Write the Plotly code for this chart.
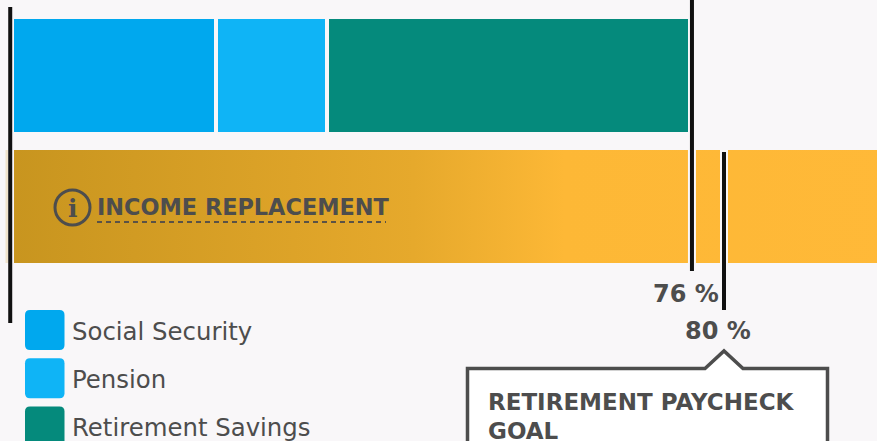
import plotly.graph_objects as go

W, H = 877, 441
FONT = "DejaVu Sans"
BG = "#f9f7f9"
INK = "#4d4d4d"

source_names = ["Social Security", "Pension", "Retirement Savings"]
source_values = [22.9, 12.5, 40.8]
source_colors = ["#00a8ee", "#0fb4f6", "#058a7c"]
row_labels = ["Income sources", "INCOME REPLACEMENT"]
income_scale_total = [100]
income_pct = 76.4
income_label = "76 %"
goal_pct = 80
goal_label = "80 %"
goal_title = ["RETIREMENT PAYCHECK", "GOAL"]

X0, KX = 12, 8.9           # pixel of 0 %, pixels per 1 %
ROW_Y, ROW_STEP = 75.5, 131
BAND = 117


def px(x):
    return x / W


def py(y):
    return 1 - y / H


def row_y(y):
    return (y - ROW_Y) / ROW_STEP


fig = go.Figure()
for name, val, col in zip(source_names, source_values, source_colors):
    fig.add_trace(go.Bar(
        x=[val], y=[0], name=name, orientation="h", width=BAND / ROW_STEP,
        marker=dict(color=col, line=dict(color=BG, width=4)), showlegend=False,
    ))

half = 113 / 2 / ROW_STEP
inset = 2 / KX
fig.add_trace(go.Scatter(
    x=[inset, income_scale_total[0], income_scale_total[0], inset, inset],
    y=[1 - half, 1 - half, 1 + half, 1 + half, 1 - half],
    mode="lines", line=dict(width=0), fill="toself", showlegend=False,
    name=row_labels[1],
    fillgradient=dict(
        type="horizontal",
        colorscale=[[0, "#c8951f"], [0.45, "#e6a92c"], [0.62, "#fdb836"], [1, "#ffb938"]],
    ),
))

shapes = []


def vline(x, y0, y1, color="#111111", width=4):
    shapes.append(dict(type="line", xref="x", yref="paper", x0=x, x1=x,
                       y0=py(y0), y1=py(y1), line=dict(color=color, width=width)))


shapes.append(dict(type="rect", xref="paper", yref="paper", x0=px(5.5), x1=px(8),
                   y0=py(150), y1=py(263), fillcolor="#f1e4cc", line=dict(width=0)))
vline(income_pct, 150, 263, BG, 8)
vline(goal_pct, 150, 263, BG, 8)
vline(-0.2, 7, 323)
vline(income_pct, -2, 271)
vline(goal_pct, 152, 310)


def rounded(x0, y0, x1, y1, r):
    a, b, c, d = px(x0), py(y0), px(x1), py(y1)
    rx, ry = r / W, r / H
    return (f"M{a + rx},{b} L{c - rx},{b} Q{c},{b} {c},{b - ry} L{c},{d + ry} Q{c},{d} {c - rx},{d} "
            f"L{a + rx},{d} Q{a},{d} {a},{d + ry} L{a},{b - ry} Q{a},{b} {a + rx},{b} Z")


annotations = []


def text(x, y, s, size=24.4, anchor="left", color=INK, family=FONT):
    annotations.append(dict(xref="paper", yref="paper", x=px(x), y=py(y), text=s, showarrow=False,
                            xanchor=anchor, yanchor="middle", align="left", xshift=0, borderpad=0,
                            font=dict(family=family, size=size, color=color)))


for i, (name, col) in enumerate(zip(source_names, source_colors)):
    top = 310 + 48.2 * i
    shapes.append(dict(type="path", xref="paper", yref="paper",
                       path=rounded(25, top, 64.5, top + 40, 5),
                       fillcolor=col, line=dict(width=0)))
    text(70.5, top + 21.5, name)

# info icon and dashed underline
shapes.append(dict(type="circle", xref="paper", yref="paper", x0=px(55), x1=px(90), y0=py(225), y1=py(190),
                   line=dict(color=INK, width=3)))
text(72.5, 208, "<b>i</b>", 25, "center", family="DejaVu Serif")
shapes.append(dict(type="line", xref="paper", yref="paper", x0=px(97), x1=px(386), y0=py(222), y1=py(222),
                   line=dict(color="#5a5246", width=2, dash="5px,4px")))
text(96, 206.5, f"<b>{row_labels[1]}</b>", 22.4)

text(685.5, 294, f"<b>{income_label}</b>", 24, "center")
text(717.5, 331, f"<b>{goal_label}</b>", 24, "center")

# goal callout
a, c = px(467.5), px(827.5)
yt, yb = py(368.5), py(470)
shapes.append(dict(type="path", xref="paper", yref="paper", fillcolor="#ffffff",
                   line=dict(color=INK, width=3.5),
                   path=(f"M{a},{yb} L{a},{yt} L{px(705)},{yt} L{px(724)},{py(351)} "
                         f"L{px(743)},{yt} L{c},{yt} L{c},{yb}")))
text(487, 402, f"<b>{goal_title[0]}</b>", 23)
text(487, 431, f"<b>{goal_title[1]}</b>", 23)

fig.update_layout(
    width=W, height=H, margin=dict(l=0, r=0, t=0, b=0, pad=0), autosize=False,
    paper_bgcolor=BG, plot_bgcolor=BG, barmode="stack", showlegend=False,
    xaxis=dict(range=[-X0 / KX, (W - X0) / KX], visible=False, fixedrange=True),
    yaxis=dict(range=[row_y(H), row_y(0)], visible=False, fixedrange=True),
    shapes=shapes, annotations=annotations, font=dict(family=FONT, color=INK),
)
fig.write_html("out.html", config=dict(displayModeBar=False),
               post_script="document.body.style.margin='0';document.body.style.overflow='hidden';")
